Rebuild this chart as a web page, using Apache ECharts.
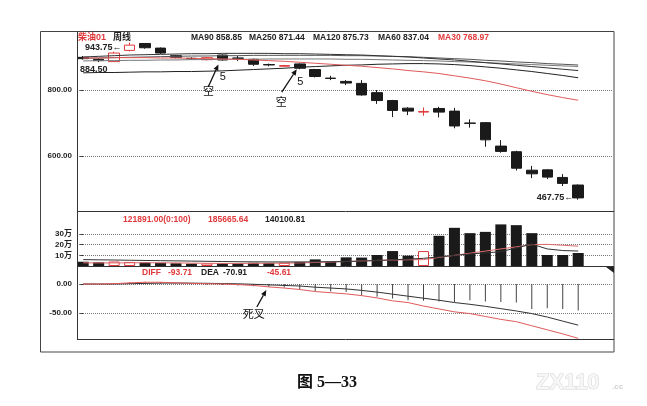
<!DOCTYPE html>
<html><head><meta charset="utf-8">
<script src="https://cdn.jsdelivr.net/npm/echarts@6/dist/echarts.min.js"></script>
<style>html,body{margin:0;padding:0;background:#fff}#c{width:647px;height:406px}</style>
</head><body><div id="c"></div>
<script>
// ---- data (weekly, 33 bars) ----
const weeks = ['W1','W2','W3','W4','W5','W6','W7','W8','W9','W10','W11','W12','W13','W14','W15','W16','W17','W18','W19','W20','W21','W22','W23','W24','W25','W26','W27','W28','W29','W30','W31','W32','W33'];
const opens  = [899, 893, 886, 920, 941, 927, 904, 896, 892, 906, 897, 893, 877, 872, 879, 862, 836, 826, 820, 792, 768, 745, 733, 744, 736, 700, 701, 630, 613, 557, 558, 535, 512];
const closes = [895, 889, 912, 936, 928, 912, 899, 895, 898, 891, 896, 878, 876, 874, 866, 841, 835, 821, 785, 768, 738, 736, 735, 733, 691, 699, 649, 614, 563, 546, 536, 517, 473];
const lows   = [892, 884.5, 886, 917, 925, 909, 896, 892, 890, 889, 888, 873, 872, 870, 863, 838, 830, 815, 783, 758, 718, 724, 722, 717, 684, 686, 628, 610, 556, 533, 530, 509, 467.75];
const highs  = [903, 896, 916, 943.75, 942, 929, 906, 899, 900, 908, 903, 895, 880, 876, 881, 864, 843, 830, 830, 800, 770, 748, 747, 749, 746, 711, 703, 648, 616, 570, 560, 545, 514];
const ma30  = [897, 897, 898, 898, 898, 897, 897, 896, 895, 894, 893, 891, 889, 887, 884, 881, 878, 875, 872, 868, 864, 859, 855, 850, 843, 836, 828, 818, 807, 796, 786, 777, 768.97];
const ma60  = [852, 853, 853, 854, 855, 855, 856, 856, 857, 858, 860, 862, 864, 866, 869, 871, 873, 875, 876, 878, 879, 880, 880, 879, 877, 874, 870, 866, 861, 856, 850, 844, 837.04];
const ma90  = [900, 902, 904, 906, 907, 908, 909, 910, 910, 911, 911, 911, 911, 910, 910, 909, 908, 907, 906, 904, 902, 900, 897, 894, 891, 887, 883, 879, 875, 871, 867, 863, 858.85];
const ma120 = [896, 897, 898, 899, 900, 901, 902, 903, 903, 904, 904, 905, 905, 905, 905, 905, 905, 904, 904, 903, 902, 901, 899, 897, 895, 893, 890, 888, 885, 883, 880, 878, 875.73];
const ma250 = [888, 889, 889, 890, 890, 891, 891, 892, 892, 893, 893, 893, 894, 894, 894, 894, 894, 893, 893, 892, 891, 890, 889, 888, 886, 885, 883, 881, 879, 877, 875, 873, 871.44];
const volumes = [40000, 35000, 42000, 38000, 33000, 30000, 26000, 22000, 24000, 27000, 26000, 30000, 28000, 30000, 38000, 62000, 40000, 81000, 79000, 103000, 140000, 97000, 140000, 283000, 358000, 308000, 320000, 390000, 383000, 308000, 103000, 103000, 121891];
const volMaRed   = [30000, 29000, 29000, 30000, 31000, 30000, 29000, 27000, 25000, 24000, 24000, 25000, 26000, 27000, 29000, 33000, 37000, 42000, 47000, 52000, 56000, 58000, 60000, 80000, 100000, 120000, 140000, 160000, 180000, 200000, 203000, 195000, 185665.64];
const volMaBlack = [60000, 58000, 56000, 54000, 52000, 50000, 48000, 46000, 44000, 42000, 40000, 39000, 38000, 38000, 38000, 39000, 40000, 42000, 46000, 52000, 58000, 65000, 72000, 85000, 100000, 112000, 123000, 134000, 170000, 205000, 160000, 145000, 140100.81];
const diff = [0, 0, 0.5, 2, 3, 3, 2, 1, 0.5, 0, -1, -2.5, -5, -7, -9.5, -13, -15, -17, -20, -24, -29, -32, -38, -43, -48, -51, -56, -61, -65, -72, -79, -86, -93.71];
const dea  = [0, 0, 0, 0.5, 1, 1.5, 1.6, 1.5, 1.2, 0.8, 0.3, -0.5, -1.5, -2.5, -3.5, -5.5, -7, -8.5, -11, -14, -17.5, -21, -24.5, -28, -32, -35, -38.5, -42.5, -46.5, -51, -57, -64, -70.91];
const macd = [0, 0, 1, 3, 4, 3, 1, -1, -1.4, -1.6, -2.6, -4, -5, -6, -9, -12, -13, -14, -20, -22, -25, -28, -29, -30, -31, -28, -30, -31, -32, -43, -42, -43, -45.61];
const priceTicks = [600, 800];
const volTicks = ['10万', '20万', '30万'];

// ---- styling ----
const RED = '#e0393b', BLK = '#1a1a1a';
const FF = '"Liberation Sans", "Noto Sans CJK SC", sans-serif';
const chart = echarts.init(document.getElementById('c'), null, {renderer: 'canvas'});
const pair = arr => weeks.map((w, i) => [i, arr[i]]);
const candleData = weeks.map((w, i) => [i, opens[i], closes[i], lows[i], highs[i]]);
const volData = weeks.map((w, i) => {
  const up = closes[i] > opens[i];
  return {value: [i, volumes[i]], itemStyle: up ? {color: '#fff', borderColor: RED, borderWidth: 1} : {color: BLK}};
});
const grids = [
  {left: 77, width: 536, top: 90, height: 66},
  {left: 77, width: 536, top: 234, height: 32},
  {left: 77, width: 536, top: 284, height: 29}
];
const axLabel = {fontSize: 8, fontWeight: 'bold', color: '#222', fontFamily: FF, margin: 5};
const axTick = {show: true, length: 3, lineStyle: {color: '#333'}};
const dotted = {show: true, lineStyle: {type: 'dotted', color: '#777', width: 1}};
const line = (name, arr, color, g) => ({
  name, type: 'line', xAxisIndex: g, yAxisIndex: g, data: pair(arr), symbol: 'none', clip: false,
  lineStyle: {width: 1, color}, itemStyle: {color}, z: 3
});

const option = {
  animation: false,
  backgroundColor: '#fff',
  grid: grids,
  xAxis: [0, 1, 2].map(g => ({type: 'value', gridIndex: g, min: -0.4, max: 34.25, show: false})),
  yAxis: [
    {type: 'value', gridIndex: 0, min: priceTicks[0], max: priceTicks[1], interval: 200,
      axisLine: {show: false}, axisTick: axTick,
      axisLabel: Object.assign({}, axLabel, {formatter: v => v.toFixed(2)}), splitLine: dotted},
    {type: 'value', gridIndex: 1, min: 0, max: 300000, interval: 100000,
      axisLine: {show: false}, axisTick: axTick,
      axisLabel: Object.assign({}, axLabel, {formatter: v => v === 0 ? '' : volTicks[v / 100000 - 1]}),
      splitLine: Object.assign({showMinLine: false}, dotted)},
    {type: 'value', gridIndex: 2, min: -50, max: 0, interval: 50,
      axisLine: {show: false}, axisTick: axTick,
      axisLabel: Object.assign({}, axLabel, {formatter: v => v.toFixed(2)}), splitLine: dotted}
  ],
  series: [
    {type: 'candlestick', xAxisIndex: 0, yAxisIndex: 0, data: candleData, barWidth: 11, clip: false, z: 2,
      itemStyle: {color: '#fff', color0: BLK, borderColor: RED, borderColor0: BLK, borderWidth: 1}},
    line('MA250', ma250, '#777', 0),
    line('MA120', ma120, '#555', 0),
    line('MA90', ma90, '#333', 0),
    line('MA60', ma60, '#222', 0),
    line('MA30', ma30, '#e05a5a', 0),
    {type: 'bar', xAxisIndex: 1, yAxisIndex: 1, data: volData, barWidth: 11, clip: false, z: 2},
    line('VMA_R', volMaRed, '#e06a6a', 1),
    line('VMA_B', volMaBlack, '#333', 1),
    {type: 'bar', xAxisIndex: 2, yAxisIndex: 2, data: pair(macd), barWidth: 1, clip: false, z: 2,
      itemStyle: {color: p => p.value[1] >= 0 ? RED : '#444'}},
    line('DEA', dea, '#333', 2),
    line('DIFF', diff, '#e05a5a', 2)
  ]
};
chart.setOption(option);

// ---- decorations & annotations ----
const px = (g, x, y) => chart.convertToPixel({gridIndex: g}, [x, y]);
const T = (text, x, y, color, size, align, weight, family) => ({
  type: 'text', x, y, z: 20,
  style: {text, fill: color, font: `${weight || 'bold'} ${size}px ${family || FF}`, align: align || 'left', verticalAlign: 'middle'}
});
const L = (x1, y1, x2, y2, color, w) => ({type: 'line', z: 15, shape: {x1, y1, x2, y2}, style: {stroke: color || '#333', lineWidth: w || 1}});
function arrow(tip, tail) {
  const dx = tip[0] - tail[0], dy = tip[1] - tail[1];
  const len = Math.hypot(dx, dy), ux = dx / len, uy = dy / len;
  const bx = tip[0] - ux * 6, by = tip[1] - uy * 6;
  return [
    {type: 'line', z: 20, shape: {x1: tail[0], y1: tail[1], x2: bx, y2: by}, style: {stroke: '#111', lineWidth: 1.3}},
    {type: 'polygon', z: 20, shape: {points: [tip, [bx - uy * 2.6, by + ux * 2.6], [bx + uy * 2.6, by - ux * 2.6]]}, style: {fill: '#111'}}
  ];
}
const g = [];
// frame
g.push({type: 'rect', z: 15, shape: {x: 40.5, y: 31.5, width: 573.5, height: 320.5}, style: {fill: 'none', stroke: '#444', lineWidth: 1}});
g.push(L(77.5, 31.5, 77.5, 339.5));
g.push(L(77, 211.5, 614, 211.5));
g.push(L(77, 266.5, 614, 266.5));
g.push(L(77, 339.5, 614, 339.5));
g.push({type: 'polygon', z: 16, shape: {points: [[606, 267], [614, 267], [614, 273]]}, style: {fill: '#222'}});
// header texts
g.push(T('柴油01', 78, 38, RED, 9));
g.push(T('周线', 113, 38, '#222', 9));
g.push(T('MA90 858.85', 191, 38, '#222', 8.5));
g.push(T('MA250 871.44', 249, 38, '#222', 8.5));
g.push(T('MA120 875.73', 313, 38, '#222', 8.5));
g.push(T('MA60 837.04', 378, 38, '#222', 8.5));
g.push(T('MA30 768.97', 438, 38, RED, 8.5));
// high / low markers
const hi = px(0, 3, highs[3]);
g.push(T(highs[3].toFixed(2) + '←', hi[0] - 8, hi[1] + 5, '#222', 9, 'right'));
const lo = px(0, 32, lows[32]);
g.push(T(lows[32].toFixed(2) + '←', lo[0] - 5, lo[1] - 2, '#222', 9, 'right'));
const lo2 = px(0, 1, lows[1]);
g.push(T(lows[1].toFixed(2), lo2[0] - 5, lo2[1] + 7, '#222', 9, 'center'));
// volume texts
g.push(T('121891.00(0:100)', 123, 219.5, RED, 8.5));
g.push(T('185665.64', 208, 219.5, RED, 8.5));
g.push(T('140100.81', 265, 219.5, '#222', 8.5));
// macd texts
g.push(T('DIFF', 142, 273, RED, 8.5));
g.push(T('-93.71', 168, 273, RED, 8.5));
g.push(T('DEA', 201, 273, '#222', 8.5));
g.push(T('-70.91', 223, 273, '#222', 8.5));
g.push(T('-45.61', 267, 273, RED, 8.5));
// annotation 1 (week 10)
const a1 = px(0, 9, closes[9]);
const tip1 = [a1[0] - 4, a1[1] + 4.5];
g.push(...arrow(tip1, [tip1[0] - 10, tip1[1] + 22]));
g.push(T('5', a1[0] + 0.5, a1[1] + 17, '#111', 11, 'center', 'normal'));
g.push(T('空', tip1[0] - 10, tip1[1] + 27, '#111', 11, 'center', 'normal'));
// annotation 2 (week 15)
const a2 = px(0, 14, closes[14]);
const tip2 = [a2[0] - 3, a2[1] + 1];
g.push(...arrow(tip2, [tip2[0] - 15, tip2[1] + 23]));
g.push(T('5', a2[0] + 0.5, a2[1] + 14, '#111', 11, 'center', 'normal'));
g.push(T('空', tip2[0] - 15.5, tip2[1] + 34, '#111', 11, 'center', 'normal'));
// death cross (week 13)
const a3 = px(2, 12, 0);
const tip3 = [a3[0] - 2.5, a3[1] + 6];
g.push(...arrow(tip3, [tip3[0] - 9.5, tip3[1] + 17]));
g.push(T('死叉', a3[0] - 15, a3[1] + 31, '#111', 11, 'center', 'normal'));
// caption + watermark
g.push(T('图 5—33', 327, 383, '#111', 16, 'center', 'bold', '"Liberation Serif", "Noto Sans CJK SC", serif'));
g.push({type: 'text', x: 536, y: 383, z: 20, style: {text: 'ZX110', fill: '#f7f7f7', stroke: '#d4d4d4', lineWidth: 1, font: 'bold 22px "Liberation Sans", sans-serif', verticalAlign: 'middle'}});
g.push(T('.cc', 612, 387, '#d0d0d0', 8, 'left', 'bold'));
chart.setOption({graphic: g});
</script>
</body></html>
